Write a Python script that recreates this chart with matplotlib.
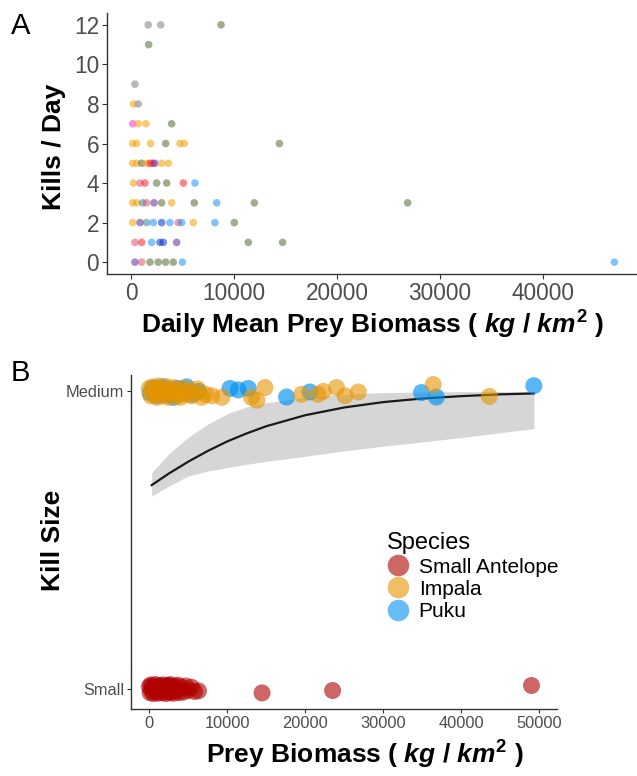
import numpy as np
import matplotlib
matplotlib.use("Agg")
import matplotlib.pyplot as plt
from matplotlib.lines import Line2D

plt.rcParams["font.family"] = ["Liberation Sans", "DejaVu Sans"]
plt.rcParams["mathtext.fontset"] = "custom"
plt.rcParams["mathtext.it"] = "Liberation Sans:italic:bold"
plt.rcParams["mathtext.rm"] = "Liberation Sans:bold"
plt.rcParams["mathtext.bf"] = "Liberation Sans:bold"

# ---- panel A: kills per day vs daily mean prey biomass, coloured by group
a_x = [1660, 2870, 8730, 1700, 370, 230, 700, 160, 700, 1440, 3930,
       150, 530, 1890, 3350, 4740, 5160, 14400,
       150, 530, 1020, 1500, 1830, 2090, 2310, 2960, 3610,
       210, 860, 1340, 2480, 3450, 5070, 6200,
       150, 530, 1120, 1500, 2220, 2960, 3930, 6130, 8310, 11970, 26870,
       150, 860, 1500, 2150, 2960, 3770, 4580, 4910, 6040, 8140, 10020,
       370, 1020, 1990, 2800, 3120, 4420, 11380, 14720,
       370, 1020, 1830, 2630, 3350, 4090, 4970, 46950]
a_y = [12, 12, 12, 11, 9, 8, 8, 7, 7, 7, 7,
       6, 6, 6, 6, 6, 6, 6,
       5, 5, 5, 5, 5, 5, 5, 5, 5,
       4, 4, 4, 4, 4, 4, 4,
       3, 3, 3, 3, 3, 3, 3, 3, 3, 3, 3,
       2, 2, 2, 2, 2, 2, 2, 2, 2, 2, 2,
       1, 1, 1, 1, 1, 1, 1, 1,
       0, 0, 0, 0, 0, 0, 0, 0]
a_grp = ["gray", "gray", "olive", "olive", "gray", "orange", "gray", "pink", "orange", "orange", "olive",
         "orange", "orange", "orange", "olive", "orange", "orange", "olive",
         "orange", "orange", "olive", "orange", "red", "red", "purple", "orange", "orange",
         "orange", "rose", "red", "olive", "olive", "red", "blue",
         "orange", "orange", "teal", "rose", "purple", "olive", "orange", "olive", "blue", "olive", "olive",
         "orange", "purple", "teal", "blue", "navy", "blue", "rose", "blue", "orange", "blue", "olive",
         "rose", "red", "blue", "navy", "navy", "purple", "olive", "olive",
         "purple", "rose", "olive", "olive", "olive", "olive", "blue", "blue"]
grp_colors = {"gray": "#808080", "olive": "#556B2F", "orange": "#F5A000", "pink": "#FF33CC",
              "red": "#FF2020", "rose": "#E0506E", "blue": "#1E90FF", "navy": "#0033CC",
              "purple": "#5B2C9F", "teal": "#2E8B9A"}

# ---- panel B: kill size vs prey biomass (Medium = 1, Small = 0, small vertical jitter)
sa_x = [0, 100, 200, 300, 400, 500, 650, 800, 900, 1000, 1150, 1300, 1400, 1500, 1700, 1800,
        1900, 2100, 2200, 2300, 2500, 2600, 2700, 2900, 3000, 3100, 3300, 3500, 3700, 3800,
        4100, 4400, 4700, 5000, 5400, 5800, 6300,
        14450, 23500, 49000]
sa_y = [0.008, -0.012, 0.014, -0.004, 0.01, -0.015, 0.004, 0.015, -0.01, 0.002, -0.014, 0.012,
        -0.006, 0.008, -0.012, 0.014, 0.0, -0.015, 0.01, -0.005, 0.012, -0.012, 0.015, -0.008,
        0.004, -0.014, 0.01, -0.006, 0.013, -0.012, 0.006, -0.01, 0.01, -0.004, 0.006, -0.008,
        -0.006, -0.013, -0.005, 0.012]

imp_x = [0, 200, 400, 600, 800, 1000, 1200, 1400, 1600, 1800, 2000, 2200, 2500, 2700, 3000,
         3200, 3500, 3800, 4000, 4300, 4600, 5000, 5400, 5800, 6200, 6700, 7200, 8000, 9300,
         13100, 13800, 14830, 19530, 21650, 22300, 24000, 25100, 26800, 36400, 43600]
imp_y = [1.01, 0.985, 1.015, 0.99, 1.005, 0.98, 1.018, 0.995, 1.01, 0.985, 1.0, 1.016, 0.98,
         1.005, 0.99, 1.012, 0.985, 1.0, 0.98, 1.01, 0.99, 1.005, 0.985, 0.995, 1.008, 0.98,
         0.99, 0.985, 0.98, 0.98, 0.97, 1.013, 0.99, 0.99, 1.0, 1.013, 0.985, 0.998, 1.023, 0.983]

puku_x = [100, 500, 900, 1300, 1700, 2100, 2600, 3100, 3600, 4200, 4800, 5500, 6300,
          10350, 11400, 12680, 17600, 20600, 34900, 36800, 49300]
puku_y = [0.995, 1.01, 0.985, 1.0, 1.015, 0.99, 1.005, 0.98, 1.01, 0.995, 1.015, 0.99, 1.0,
          1.01, 1.005, 1.01, 0.981, 0.998, 0.996, 0.981, 1.019]

# fitted probability of a Medium kill and its band
fit_x = [300, 2500, 5000, 7500, 10000, 12500, 15000, 20000, 25000, 30000, 35000, 40000, 45000, 49300]
fit_y = [0.685, 0.724, 0.764, 0.800, 0.832, 0.859, 0.883, 0.920, 0.946, 0.964, 0.976, 0.984, 0.990, 0.993]
fit_hi = [0.727, 0.790, 0.846, 0.890, 0.925, 0.948, 0.962, 0.980, 0.990, 0.996, 0.998, 0.999, 0.9995, 0.9997]
fit_lo = [0.648, 0.682, 0.716, 0.732, 0.744, 0.755, 0.765, 0.782, 0.800, 0.816, 0.830, 0.845, 0.861, 0.875]

species = ["Small Antelope", "Impala", "Puku"]
sp_colors = ["#B00000", "#E59400", "#0090F0"]

W, H = 637, 776
fig = plt.figure(figsize=(W / 100, H / 100), dpi=100)

AXC = "#333333"
TXC = "#4D4D4D"


def style(ax, lab_size, tick_len):
    for s in ("top", "right"):
        ax.spines[s].set_visible(False)
    for s in ("left", "bottom"):
        ax.spines[s].set_color(AXC)
        ax.spines[s].set_linewidth(1.0)
    ax.tick_params(colors=AXC, labelcolor=TXC, labelsize=lab_size, length=tick_len, width=0.8, pad=2)


# panel A
axA = fig.add_axes([107 / W, 1 - 274 / H, (638.5 - 107) / W, (274 - 13) / H])
style(axA, 16.3, 3.6)
cols = [grp_colors[g] for g in a_grp]
axA.scatter(a_x, a_y, s=30, c=cols, alpha=0.55, edgecolors="none", zorder=3)
axA.set_xlim(-2347, 49297)
axA.set_ylim(-0.6, 12.6)
axA.set_xticks([0, 10000, 20000, 30000, 40000])
axA.set_yticks([0, 2, 4, 6, 8, 10, 12])
axA.set_xlabel("Daily Mean Prey Biomass ( $kg$ / $km^2$ )", fontsize=19, fontweight="bold")
axA.set_ylabel("Kills / Day", fontsize=19, fontweight="bold")
axA.xaxis.set_label_coords((372 - 107) / (638.5 - 107), -(325 - 274) / (274 - 13), transform=axA.transAxes)
axA.yaxis.set_label_coords(-(107 - 54) / (638.5 - 107), (274 - 147) / (274 - 13), transform=axA.transAxes)
axA.xaxis.label.set_va("center")
axA.yaxis.label.set_va("center")
fig.text(11 / W, 1 - 12 / H, "A", fontsize=21, ha="left", va="top")

# panel B
axB = fig.add_axes([131 / W, 1 - 709 / H, (557 - 131) / W, (709 - 375) / H])
style(axB, 11.8, 3.0)
axB.fill_between(fit_x, fit_lo, fit_hi, color="#999999", alpha=0.4, lw=0, zorder=1)
axB.plot(fit_x, fit_y, color="#1A1A1A", lw=1.6, zorder=2)
ms = 150
axB.scatter(sa_x, sa_y, s=ms, color=sp_colors[0], alpha=0.6, edgecolors="none", zorder=3)
axB.scatter(puku_x, puku_y, s=ms, color=sp_colors[2], alpha=0.65, edgecolors="none", zorder=3)
axB.scatter(imp_x, imp_y, s=ms, color=sp_colors[1], alpha=0.6, edgecolors="none", zorder=3)
axB.set_xlim(-2350, 52270)
axB.set_ylim(-0.067, 1.055)
axB.set_xticks([0, 10000, 20000, 30000, 40000, 50000])
axB.set_yticks([0, 1])
axB.set_yticklabels(["Small", "Medium"])
axB.set_xlabel("Prey Biomass ( $kg$ / $km^2$ )", fontsize=19, fontweight="bold")
axB.set_ylabel("Kill Size", fontsize=19, fontweight="bold")
axB.xaxis.set_label_coords((365 - 131) / (557 - 131), -(755 - 709) / (709 - 375), transform=axB.transAxes)
axB.yaxis.set_label_coords(-(131 - 53) / (557 - 131), (709 - 540) / (709 - 375), transform=axB.transAxes)
axB.xaxis.label.set_va("center")
axB.yaxis.label.set_va("center")
fig.text(11 / W, 1 - 359 / H, "B", fontsize=21, ha="left", va="top")

handles = [Line2D([], [], ls="none", marker="o", markersize=15.5, markeredgewidth=0,
                  color=c, alpha=0.6) for c in sp_colors]
leg = axB.legend(handles, species, title="Species", loc="upper left",
                 bbox_to_anchor=(376 / W, 1 - 522 / H), bbox_transform=fig.transFigure,
                 frameon=False, fontsize=15, title_fontsize=17, borderpad=0,
                 handlelength=1.1, handletextpad=0.45, labelspacing=0.15, alignment="left")

fig.savefig("out.png", dpi=100)
